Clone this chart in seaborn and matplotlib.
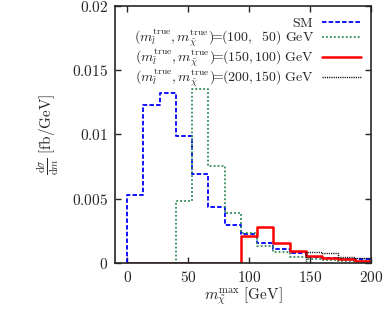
import numpy as np
import pandas as pd
import matplotlib
matplotlib.use("Agg")
import matplotlib.pyplot as plt
import seaborn as sns

edges = np.linspace(0, 200, 16)
sm = [0.00529, 0.0123, 0.01326, 0.00988, 0.00693, 0.00438, 0.00296, 0.00223,
      0.00153, 0.00106, 0.00075, 0.00049, 0.00036, 0.00030, 0.00030]
p100_50 = [0, 0, 0, 0.00482, 0.01351, 0.00757, 0.00392, 0.00231,
           0.00135, 0.00083, 0.00049, 0.00029, 0.00023, 0.00018, 0.00015]
p150_100 = [0, 0, 0, 0, 0, 0, 0, 0.00213,
            0.00283, 0.00158, 0.00090, 0.00054, 0.00036, 0.00029, 0.00018]
p200_150 = [0, 0, 0, 0, 0, 0, 0, 0,
            0, 0, 0, 0.00088, 0.00080, 0.00049, 0.00036]

lab_pre = r"(m_{\tilde{l}}^{\rm true},m_{\tilde{\chi}}^{\rm true})\!\!=\!\!"
labels = [r"$\rm SM$",
          "$" + lab_pre + r"(100,\ \ 50)\ {\rm GeV}$",
          "$" + lab_pre + r"(150,100)\ {\rm GeV}$",
          "$" + lab_pre + r"(200,150)\ {\rm GeV}$"]

sns.set_style("ticks")
plt.rcParams["font.family"] = ["DejaVu Serif"]
plt.rcParams["mathtext.fontset"] = "cm"

fig = plt.figure(figsize=(3.86, 3.09), dpi=100)
ax = fig.add_axes([0.298, 0.149, 0.663, 0.832])

series = [
    (sm, "#0000ff", (0, (2.5, 1.2)), 1.3),
    (p100_50, "#2e8b57", (0, (1.0, 1.2)), 1.3),
    (p150_100, "#ff0000", "-", 1.8),
    (p200_150, "#000000", (0, (0.8, 0.8)), 1.0),
]
for (vals, col, ls, lw), lab in zip(series, labels):
    xs = [edges[0]] + list(edges)
    ys = [0.0] + list(vals) + [vals[-1]]
    df = pd.DataFrame({"m": xs, "v": ys})
    sns.lineplot(data=df, x="m", y="v", estimator=None, sort=False,
                 drawstyle="steps-post", color=col, linestyle=ls, linewidth=lw,
                 label=lab, ax=ax)

ax.set_xlim(-10, 200)
ax.set_ylim(0, 0.02)
ax.set_xticks([0, 50, 100, 150, 200])
ax.set_yticks([0, 0.005, 0.01, 0.015, 0.02])
ax.set_xticklabels(["$0$", "$50$", "$100$", "$150$", "$200$"], fontsize=11)
ax.set_yticklabels(["$0$", "$0.005$", "$0.01$", "$0.015$", "$0.02$"], fontsize=11)
ax.tick_params(direction="in", top=True, right=True, length=4, width=1, pad=5)
for s in ax.spines.values():
    s.set_linewidth(1.2)
ax.set_xlabel(r"$m_{\tilde{\chi}}^{\rm max}\ [{\rm GeV}]$", fontsize=11, labelpad=0)
ax.set_ylabel(r"$\frac{{\rm d}\sigma}{{\rm d}m}\ [{\rm fb/GeV}]$", fontsize=11, labelpad=8)

leg = ax.legend(loc="upper right", frameon=False, markerfirst=False, fontsize=10,
                handlelength=2.8, labelspacing=-0.2, borderaxespad=0.3, handletextpad=0.6)
leg._legend_box.align = "right"

fig.savefig("out.png", dpi=100)
